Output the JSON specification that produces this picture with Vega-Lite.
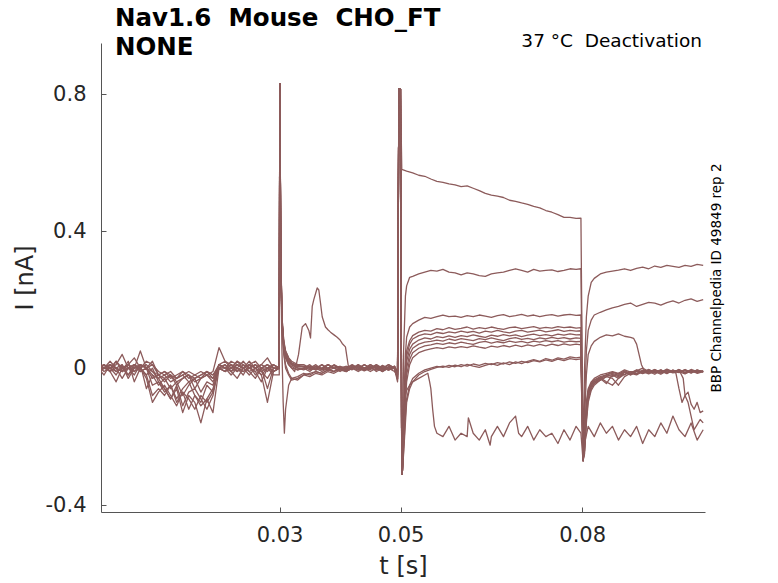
{
"$schema":"https://vega.github.io/schema/vega-lite/v6.json",
"width":604,"height":469,
"autosize":{"type":"none"},
"padding":{"left":101,"top":43,"right":73,"bottom":71},
"background":"white",
"config":{"view":{"stroke":null},"font":"DejaVu Sans"},
"title":{"text":["Nav1.6\u00a0 Mouse\u00a0 CHO_FT","NONE"],"anchor":"start","frame":"group","fontSize":24.5,"fontWeight":"bold","color":"#000000","lineHeight":29,"offset":-29,"dx":14,"font":"DejaVu Sans"},
"layer":[
{"data":{"values":[
{"s":"a","t":0,"i":0},{"s":"a","t":0.001,"i":0.01},{"s":"a","t":0.002,"i":-0.01},{"s":"a","t":0.003,"i":0.02},{"s":"a","t":0.004,"i":0},{"s":"a","t":0.005,"i":0.01},{"s":"a","t":0.006,"i":-0.01},{"s":"a","t":0.007,"i":0},{"s":"a","t":0.008,"i":0.02},{"s":"a","t":0.009,"i":0.01},
{"s":"a","t":0.01,"i":-0.01},{"s":"a","t":0.011,"i":-0.02},{"s":"a","t":0.012,"i":-0.01},{"s":"a","t":0.013,"i":-0.03},{"s":"a","t":0.014,"i":-0.02},{"s":"a","t":0.015,"i":-0.01},{"s":"a","t":0.016,"i":-0.02},{"s":"a","t":0.017,"i":-0.03},{"s":"a","t":0.018,"i":-0.01},{"s":"a","t":0.019,"i":-0.02},
{"s":"a","t":0.02,"i":0.01},{"s":"a","t":0.021,"i":0},{"s":"a","t":0.022,"i":0.02},{"s":"a","t":0.023,"i":0.01},{"s":"a","t":0.024,"i":0},{"s":"a","t":0.025,"i":0.01},{"s":"a","t":0.026,"i":0.02},{"s":"a","t":0.027,"i":0},{"s":"a","t":0.028,"i":0.01},{"s":"a","t":0.029,"i":0},
{"s":"a","t":0.02995,"i":0},{"s":"a","t":0.03005,"i":0.83},{"s":"a","t":0.0302,"i":0.35},{"s":"a","t":0.0304,"i":0.15},{"s":"a","t":0.0307,"i":0.08},{"s":"a","t":0.031,"i":0.05},{"s":"a","t":0.0315,"i":0.03},{"s":"a","t":0.032,"i":0.015},{"s":"a","t":0.033,"i":0.008},
{"s":"a","t":0.034,"i":0.005},{"s":"a","t":0.035,"i":0},{"s":"a","t":0.036,"i":0.01},{"s":"a","t":0.037,"i":-0.005},{"s":"a","t":0.038,"i":0},{"s":"a","t":0.039,"i":0.008},{"s":"a","t":0.04,"i":0},{"s":"a","t":0.041,"i":-0.01},{"s":"a","t":0.042,"i":0.005},{"s":"a","t":0.043,"i":0},{"s":"a","t":0.044,"i":0.01},{"s":"a","t":0.045,"i":0},{"s":"a","t":0.046,"i":-0.005},{"s":"a","t":0.047,"i":0.008},{"s":"a","t":0.048,"i":0},{"s":"a","t":0.049,"i":0.005},{"s":"a","t":0.0495,"i":-0.01},
{"s":"a","t":0.04972,"i":0.815},{"s":"a","t":0.04998,"i":0.815},{"s":"a","t":0.0502,"i":0.58},
{"s":"a","t":0.051,"i":0.575},{"s":"a","t":0.052,"i":0.57},{"s":"a","t":0.053,"i":0.563},{"s":"a","t":0.054,"i":0.56},{"s":"a","t":0.055,"i":0.552},{"s":"a","t":0.056,"i":0.545},{"s":"a","t":0.057,"i":0.542},{"s":"a","t":0.058,"i":0.538},{"s":"a","t":0.059,"i":0.535},{"s":"a","t":0.06,"i":0.53},{"s":"a","t":0.061,"i":0.532},{"s":"a","t":0.062,"i":0.525},{"s":"a","t":0.063,"i":0.518},{"s":"a","t":0.064,"i":0.51},{"s":"a","t":0.065,"i":0.505},{"s":"a","t":0.066,"i":0.502},{"s":"a","t":0.067,"i":0.498},{"s":"a","t":0.068,"i":0.49},{"s":"a","t":0.069,"i":0.487},{"s":"a","t":0.07,"i":0.482},{"s":"a","t":0.071,"i":0.478},{"s":"a","t":0.072,"i":0.472},{"s":"a","t":0.073,"i":0.468},{"s":"a","t":0.074,"i":0.46},{"s":"a","t":0.075,"i":0.455},{"s":"a","t":0.076,"i":0.448},{"s":"a","t":0.077,"i":0.44},{"s":"a","t":0.078,"i":0.44},{"s":"a","t":0.079,"i":0.437},{"s":"a","t":0.0798,"i":0.438},
{"s":"a","t":0.08015,"i":-0.27},{"s":"a","t":0.0804,"i":0},{"s":"a","t":0.0807,"i":0.15},{"s":"a","t":0.081,"i":0.21},{"s":"a","t":0.0815,"i":0.25},{"s":"a","t":0.082,"i":0.262},{"s":"a","t":0.083,"i":0.275},{"s":"a","t":0.084,"i":0.28},{"s":"a","t":0.085,"i":0.283},{"s":"a","t":0.086,"i":0.286},{"s":"a","t":0.087,"i":0.29},{"s":"a","t":0.088,"i":0.285},{"s":"a","t":0.089,"i":0.291},{"s":"a","t":0.09,"i":0.295},{"s":"a","t":0.091,"i":0.29},{"s":"a","t":0.092,"i":0.298},{"s":"a","t":0.093,"i":0.294},{"s":"a","t":0.094,"i":0.3},{"s":"a","t":0.095,"i":0.297},{"s":"a","t":0.096,"i":0.294},{"s":"a","t":0.097,"i":0.3},{"s":"a","t":0.098,"i":0.297},{"s":"a","t":0.099,"i":0.303},{"s":"a","t":0.1,"i":0.3},

{"s":"b","t":0,"i":0.01},{"s":"b","t":0.001,"i":-0.01},{"s":"b","t":0.002,"i":0},{"s":"b","t":0.003,"i":0.01},{"s":"b","t":0.004,"i":0.04},{"s":"b","t":0.005,"i":0},{"s":"b","t":0.006,"i":-0.01},{"s":"b","t":0.007,"i":0.01},{"s":"b","t":0.008,"i":0},{"s":"b","t":0.009,"i":0.02},
{"s":"b","t":0.01,"i":-0.02},{"s":"b","t":0.011,"i":-0.01},{"s":"b","t":0.012,"i":-0.03},{"s":"b","t":0.013,"i":-0.02},{"s":"b","t":0.014,"i":-0.01},{"s":"b","t":0.015,"i":-0.03},{"s":"b","t":0.016,"i":-0.02},{"s":"b","t":0.017,"i":-0.01},{"s":"b","t":0.018,"i":-0.02},{"s":"b","t":0.019,"i":-0.01},
{"s":"b","t":0.02,"i":0.06},{"s":"b","t":0.021,"i":0.02},{"s":"b","t":0.022,"i":0.01},{"s":"b","t":0.023,"i":-0.01},{"s":"b","t":0.024,"i":0.01},{"s":"b","t":0.025,"i":0},{"s":"b","t":0.026,"i":0.01},{"s":"b","t":0.027,"i":-0.01},{"s":"b","t":0.028,"i":0},{"s":"b","t":0.029,"i":0.01},
{"s":"b","t":0.02995,"i":0},{"s":"b","t":0.03005,"i":0.83},{"s":"b","t":0.0302,"i":0.33},{"s":"b","t":0.0304,"i":0.13},{"s":"b","t":0.0307,"i":0.07},{"s":"b","t":0.031,"i":0.04},{"s":"b","t":0.0315,"i":0.02},{"s":"b","t":0.032,"i":0.01},{"s":"b","t":0.033,"i":0},
{"s":"b","t":0.034,"i":0},{"s":"b","t":0.035,"i":0.01},{"s":"b","t":0.036,"i":-0.005},{"s":"b","t":0.037,"i":0},{"s":"b","t":0.038,"i":0.01},{"s":"b","t":0.039,"i":0},{"s":"b","t":0.04,"i":-0.01},{"s":"b","t":0.041,"i":0},{"s":"b","t":0.042,"i":0.008},{"s":"b","t":0.043,"i":-0.005},{"s":"b","t":0.044,"i":0},{"s":"b","t":0.045,"i":0.01},{"s":"b","t":0.046,"i":0},{"s":"b","t":0.047,"i":-0.01},{"s":"b","t":0.048,"i":0.005},{"s":"b","t":0.049,"i":0},{"s":"b","t":0.0495,"i":-0.02},
{"s":"b","t":0.04972,"i":0.815},{"s":"b","t":0.04998,"i":0.815},{"s":"b","t":0.0502,"i":-0.31},{"s":"b","t":0.0503,"i":-0.3},{"s":"b","t":0.0505,"i":0.05},{"s":"b","t":0.0508,"i":0.21},{"s":"b","t":0.051,"i":0.24},{"s":"b","t":0.0515,"i":0.265},
{"s":"b","t":0.052,"i":0.268},{"s":"b","t":0.053,"i":0.275},{"s":"b","t":0.054,"i":0.28},{"s":"b","t":0.055,"i":0.285},{"s":"b","t":0.056,"i":0.283},{"s":"b","t":0.057,"i":0.288},{"s":"b","t":0.058,"i":0.28},{"s":"b","t":0.059,"i":0.278},{"s":"b","t":0.06,"i":0.272},{"s":"b","t":0.061,"i":0.278},{"s":"b","t":0.062,"i":0.275},{"s":"b","t":0.063,"i":0.27},{"s":"b","t":0.064,"i":0.268},{"s":"b","t":0.065,"i":0.275},{"s":"b","t":0.066,"i":0.278},{"s":"b","t":0.067,"i":0.28},{"s":"b","t":0.068,"i":0.285},{"s":"b","t":0.069,"i":0.29},{"s":"b","t":0.07,"i":0.285},{"s":"b","t":0.071,"i":0.28},{"s":"b","t":0.072,"i":0.288},{"s":"b","t":0.073,"i":0.283},{"s":"b","t":0.074,"i":0.285},{"s":"b","t":0.075,"i":0.287},{"s":"b","t":0.076,"i":0.282},{"s":"b","t":0.077,"i":0.285},{"s":"b","t":0.078,"i":0.29},{"s":"b","t":0.079,"i":0.288},{"s":"b","t":0.0798,"i":0.29},
{"s":"b","t":0.08015,"i":-0.27},{"s":"b","t":0.0804,"i":-0.1},{"s":"b","t":0.0807,"i":0.05},{"s":"b","t":0.081,"i":0.11},{"s":"b","t":0.0815,"i":0.14},{"s":"b","t":0.082,"i":0.155},{"s":"b","t":0.083,"i":0.163},{"s":"b","t":0.084,"i":0.17},{"s":"b","t":0.085,"i":0.176},{"s":"b","t":0.086,"i":0.18},{"s":"b","t":0.087,"i":0.186},{"s":"b","t":0.088,"i":0.19},{"s":"b","t":0.089,"i":0.18},{"s":"b","t":0.09,"i":0.186},{"s":"b","t":0.091,"i":0.192},{"s":"b","t":0.092,"i":0.19},{"s":"b","t":0.093,"i":0.184},{"s":"b","t":0.094,"i":0.191},{"s":"b","t":0.095,"i":0.196},{"s":"b","t":0.096,"i":0.19},{"s":"b","t":0.097,"i":0.198},{"s":"b","t":0.098,"i":0.202},{"s":"b","t":0.099,"i":0.195},{"s":"b","t":0.1,"i":0.2},

{"s":"c","t":0,"i":0.02},{"s":"c","t":0.001,"i":0},{"s":"c","t":0.002,"i":0.01},{"s":"c","t":0.003,"i":-0.01},{"s":"c","t":0.004,"i":0},{"s":"c","t":0.005,"i":-0.02},{"s":"c","t":0.006,"i":0.01},{"s":"c","t":0.007,"i":0},{"s":"c","t":0.008,"i":0.01},{"s":"c","t":0.009,"i":-0.01},
{"s":"c","t":0.01,"i":-0.03},{"s":"c","t":0.011,"i":-0.02},{"s":"c","t":0.012,"i":-0.04},{"s":"c","t":0.013,"i":-0.03},{"s":"c","t":0.014,"i":-0.02},{"s":"c","t":0.015,"i":-0.04},{"s":"c","t":0.016,"i":-0.03},{"s":"c","t":0.017,"i":-0.02},{"s":"c","t":0.018,"i":-0.01},{"s":"c","t":0.019,"i":-0.03},
{"s":"c","t":0.02,"i":0.01},{"s":"c","t":0.021,"i":0},{"s":"c","t":0.022,"i":0},{"s":"c","t":0.023,"i":0.02},{"s":"c","t":0.024,"i":0.01},{"s":"c","t":0.025,"i":-0.01},{"s":"c","t":0.026,"i":0},{"s":"c","t":0.027,"i":0.01},{"s":"c","t":0.028,"i":0.03},{"s":"c","t":0.029,"i":0},
{"s":"c","t":0.02995,"i":0},{"s":"c","t":0.03005,"i":0.83},{"s":"c","t":0.0302,"i":0.34},{"s":"c","t":0.0304,"i":0.14},{"s":"c","t":0.0307,"i":0.06},{"s":"c","t":0.031,"i":0.03},{"s":"c","t":0.0315,"i":0.01},{"s":"c","t":0.032,"i":0},{"s":"c","t":0.0325,"i":-0.01},
{"s":"c","t":0.03314,"i":0.04},{"s":"c","t":0.03375,"i":0.12},{"s":"c","t":0.03429,"i":0.13},{"s":"c","t":0.03484,"i":0.11},{"s":"c","t":0.03512,"i":0.088},{"s":"c","t":0.0354,"i":0.18},{"s":"c","t":0.03566,"i":0.2},{"s":"c","t":0.03622,"i":0.234},{"s":"c","t":0.03649,"i":0.228},{"s":"c","t":0.03677,"i":0.19},{"s":"c","t":0.03705,"i":0.15},{"s":"c","t":0.03759,"i":0.12},{"s":"c","t":0.038,"i":0.112},{"s":"c","t":0.03842,"i":0.105},{"s":"c","t":0.039,"i":0.097},{"s":"c","t":0.03952,"i":0.09},{"s":"c","t":0.04,"i":0.082},{"s":"c","t":0.04035,"i":0.072},{"s":"c","t":0.04089,"i":0.062},{"s":"c","t":0.04122,"i":0.023},{"s":"c","t":0.04139,"i":0.004},
{"s":"c","t":0.042,"i":0},{"s":"c","t":0.043,"i":0.01},{"s":"c","t":0.044,"i":-0.005},{"s":"c","t":0.045,"i":0},{"s":"c","t":0.046,"i":0.01},{"s":"c","t":0.047,"i":-0.01},{"s":"c","t":0.048,"i":0},{"s":"c","t":0.049,"i":0.005},{"s":"c","t":0.0495,"i":-0.03},
{"s":"c","t":0.04972,"i":0.815},{"s":"c","t":0.04998,"i":0.815},{"s":"c","t":0.0502,"i":-0.31},{"s":"c","t":0.0503,"i":-0.3},{"s":"c","t":0.0505,"i":-0.12},{"s":"c","t":0.0508,"i":0.04},{"s":"c","t":0.051,"i":0.09},{"s":"c","t":0.0515,"i":0.12},
{"s":"c","t":0.052,"i":0.13},{"s":"c","t":0.053,"i":0.14},{"s":"c","t":0.054,"i":0.148},{"s":"c","t":0.055,"i":0.145},{"s":"c","t":0.056,"i":0.15},{"s":"c","t":0.057,"i":0.155},{"s":"c","t":0.058,"i":0.15},{"s":"c","t":0.059,"i":0.152},{"s":"c","t":0.06,"i":0.148},{"s":"c","t":0.061,"i":0.153},{"s":"c","t":0.062,"i":0.15},{"s":"c","t":0.063,"i":0.155},{"s":"c","t":0.064,"i":0.152},{"s":"c","t":0.065,"i":0.148},{"s":"c","t":0.066,"i":0.153},{"s":"c","t":0.067,"i":0.156},{"s":"c","t":0.068,"i":0.15},{"s":"c","t":0.069,"i":0.153},{"s":"c","t":0.07,"i":0.157},{"s":"c","t":0.071,"i":0.152},{"s":"c","t":0.072,"i":0.155},{"s":"c","t":0.073,"i":0.15},{"s":"c","t":0.074,"i":0.154},{"s":"c","t":0.075,"i":0.156},{"s":"c","t":0.076,"i":0.152},{"s":"c","t":0.077,"i":0.155},{"s":"c","t":0.078,"i":0.157},{"s":"c","t":0.079,"i":0.154},{"s":"c","t":0.0798,"i":0.155},
{"s":"c","t":0.08015,"i":-0.27},{"s":"c","t":0.0804,"i":-0.15},{"s":"c","t":0.0807,"i":-0.02},{"s":"c","t":0.081,"i":0.04},{"s":"c","t":0.0815,"i":0.065},{"s":"c","t":0.082,"i":0.078},{"s":"c","t":0.083,"i":0.09},{"s":"c","t":0.084,"i":0.097},{"s":"c","t":0.085,"i":0.094},{"s":"c","t":0.086,"i":0.1},{"s":"c","t":0.087,"i":0.093},{"s":"c","t":0.088,"i":0.09},{"s":"c","t":0.0885,"i":0.087},{"s":"c","t":0.089,"i":0.07},{"s":"c","t":0.0894,"i":0.04},{"s":"c","t":0.0898,"i":0.01},{"s":"c","t":0.0902,"i":-0.005},{"s":"c","t":0.091,"i":-0.012},{"s":"c","t":0.092,"i":-0.005},{"s":"c","t":0.093,"i":-0.015},{"s":"c","t":0.094,"i":-0.008},{"s":"c","t":0.095,"i":-0.012},{"s":"c","t":0.096,"i":-0.004},{"s":"c","t":0.097,"i":-0.015},{"s":"c","t":0.098,"i":-0.008},{"s":"c","t":0.099,"i":-0.012},{"s":"c","t":0.1,"i":-0.01},

{"s":"d","t":0,"i":-0.01},{"s":"d","t":0.001,"i":0},{"s":"d","t":0.002,"i":0.02},{"s":"d","t":0.003,"i":0},{"s":"d","t":0.004,"i":-0.01},{"s":"d","t":0.005,"i":0.01},{"s":"d","t":0.006,"i":0},{"s":"d","t":0.007,"i":0.05},{"s":"d","t":0.008,"i":0},{"s":"d","t":0.009,"i":0.01},
{"s":"d","t":0.01,"i":-0.02},{"s":"d","t":0.011,"i":-0.04},{"s":"d","t":0.012,"i":-0.02},{"s":"d","t":0.013,"i":-0.05},{"s":"d","t":0.014,"i":-0.03},{"s":"d","t":0.015,"i":-0.02},{"s":"d","t":0.016,"i":-0.06},{"s":"d","t":0.017,"i":-0.03},{"s":"d","t":0.018,"i":-0.02},{"s":"d","t":0.019,"i":-0.04},
{"s":"d","t":0.02,"i":0},{"s":"d","t":0.021,"i":0.01},{"s":"d","t":0.022,"i":-0.01},{"s":"d","t":0.023,"i":0},{"s":"d","t":0.024,"i":0.02},{"s":"d","t":0.025,"i":0},{"s":"d","t":0.026,"i":-0.01},{"s":"d","t":0.027,"i":0},{"s":"d","t":0.028,"i":0.01},{"s":"d","t":0.029,"i":-0.01},
{"s":"d","t":0.02995,"i":0},{"s":"d","t":0.03005,"i":0.83},{"s":"d","t":0.0302,"i":0.36},{"s":"d","t":0.0304,"i":0.15},{"s":"d","t":0.0307,"i":0.075},{"s":"d","t":0.031,"i":0.05},{"s":"d","t":0.0315,"i":0.03},{"s":"d","t":0.032,"i":0.02},{"s":"d","t":0.033,"i":0.01},
{"s":"d","t":0.034,"i":0.01},{"s":"d","t":0.035,"i":0},{"s":"d","t":0.036,"i":0.005},{"s":"d","t":0.037,"i":-0.005},{"s":"d","t":0.038,"i":0.01},{"s":"d","t":0.039,"i":0},{"s":"d","t":0.04,"i":0.005},{"s":"d","t":0.041,"i":0},{"s":"d","t":0.042,"i":-0.005},{"s":"d","t":0.043,"i":0.01},{"s":"d","t":0.044,"i":0},{"s":"d","t":0.045,"i":0.005},{"s":"d","t":0.046,"i":-0.01},{"s":"d","t":0.047,"i":0},{"s":"d","t":0.048,"i":0.01},{"s":"d","t":0.049,"i":0},{"s":"d","t":0.0495,"i":-0.01},
{"s":"d","t":0.04972,"i":0.815},{"s":"d","t":0.04998,"i":0.815},{"s":"d","t":0.0502,"i":-0.31},{"s":"d","t":0.0503,"i":-0.3},{"s":"d","t":0.0505,"i":-0.15},{"s":"d","t":0.0508,"i":0},{"s":"d","t":0.051,"i":0.05},{"s":"d","t":0.0515,"i":0.08},
{"s":"d","t":0.052,"i":0.095},{"s":"d","t":0.053,"i":0.105},{"s":"d","t":0.054,"i":0.11},{"s":"d","t":0.055,"i":0.108},{"s":"d","t":0.056,"i":0.115},{"s":"d","t":0.057,"i":0.112},{"s":"d","t":0.058,"i":0.118},{"s":"d","t":0.059,"i":0.113},{"s":"d","t":0.06,"i":0.116},{"s":"d","t":0.061,"i":0.12},{"s":"d","t":0.062,"i":0.114},{"s":"d","t":0.063,"i":0.118},{"s":"d","t":0.064,"i":0.115},{"s":"d","t":0.065,"i":0.12},{"s":"d","t":0.066,"i":0.116},{"s":"d","t":0.067,"i":0.113},{"s":"d","t":0.068,"i":0.118},{"s":"d","t":0.069,"i":0.12},{"s":"d","t":0.07,"i":0.115},{"s":"d","t":0.071,"i":0.118},{"s":"d","t":0.072,"i":0.121},{"s":"d","t":0.073,"i":0.116},{"s":"d","t":0.074,"i":0.119},{"s":"d","t":0.075,"i":0.117},{"s":"d","t":0.076,"i":0.121},{"s":"d","t":0.077,"i":0.118},{"s":"d","t":0.078,"i":0.12},{"s":"d","t":0.079,"i":0.117},{"s":"d","t":0.0798,"i":0.118},
{"s":"d","t":0.08015,"i":-0.27},{"s":"d","t":0.0804,"i":-0.2},{"s":"d","t":0.0807,"i":-0.1},{"s":"d","t":0.081,"i":-0.06},{"s":"d","t":0.0815,"i":-0.04},{"s":"d","t":0.082,"i":-0.03},{"s":"d","t":0.083,"i":-0.02},{"s":"d","t":0.084,"i":-0.015},{"s":"d","t":0.085,"i":-0.01},{"s":"d","t":0.086,"i":-0.015},{"s":"d","t":0.087,"i":-0.005},{"s":"d","t":0.088,"i":-0.012},{"s":"d","t":0.089,"i":-0.008},{"s":"d","t":0.09,"i":0},{"s":"d","t":0.091,"i":-0.01},{"s":"d","t":0.092,"i":-0.005},{"s":"d","t":0.093,"i":-0.012},{"s":"d","t":0.094,"i":-0.003},{"s":"d","t":0.095,"i":-0.01},{"s":"d","t":0.096,"i":-0.006},{"s":"d","t":0.097,"i":-0.014},{"s":"d","t":0.098,"i":-0.004},{"s":"d","t":0.099,"i":-0.01},{"s":"d","t":0.1,"i":-0.008},

{"s":"e","t":0,"i":0},{"s":"e","t":0.001,"i":-0.02},{"s":"e","t":0.002,"i":0.01},{"s":"e","t":0.003,"i":0},{"s":"e","t":0.004,"i":-0.03},{"s":"e","t":0.005,"i":0},{"s":"e","t":0.006,"i":0.01},{"s":"e","t":0.007,"i":-0.01},{"s":"e","t":0.008,"i":0},{"s":"e","t":0.009,"i":-0.02},
{"s":"e","t":0.01,"i":-0.05},{"s":"e","t":0.011,"i":-0.03},{"s":"e","t":0.012,"i":-0.06},{"s":"e","t":0.013,"i":-0.04},{"s":"e","t":0.014,"i":-0.08},{"s":"e","t":0.015,"i":-0.05},{"s":"e","t":0.016,"i":-0.03},{"s":"e","t":0.017,"i":-0.07},{"s":"e","t":0.018,"i":-0.04},{"s":"e","t":0.019,"i":-0.05},
{"s":"e","t":0.02,"i":0.01},{"s":"e","t":0.021,"i":0},{"s":"e","t":0.022,"i":-0.01},{"s":"e","t":0.023,"i":0.01},{"s":"e","t":0.024,"i":0},{"s":"e","t":0.025,"i":0.02},{"s":"e","t":0.026,"i":0},{"s":"e","t":0.027,"i":-0.02},{"s":"e","t":0.028,"i":0},{"s":"e","t":0.029,"i":0.01},
{"s":"e","t":0.02995,"i":0},{"s":"e","t":0.03005,"i":0.83},{"s":"e","t":0.0302,"i":0.35},{"s":"e","t":0.0304,"i":0.14},{"s":"e","t":0.0307,"i":0.065},{"s":"e","t":0.031,"i":0.04},{"s":"e","t":0.0315,"i":0.02},{"s":"e","t":0.032,"i":0.01},{"s":"e","t":0.033,"i":0},
{"s":"e","t":0.034,"i":-0.005},{"s":"e","t":0.035,"i":0.005},{"s":"e","t":0.036,"i":0},{"s":"e","t":0.037,"i":-0.01},{"s":"e","t":0.038,"i":0},{"s":"e","t":0.039,"i":0.008},{"s":"e","t":0.04,"i":-0.005},{"s":"e","t":0.041,"i":0},{"s":"e","t":0.042,"i":0.01},{"s":"e","t":0.043,"i":0},{"s":"e","t":0.044,"i":-0.008},{"s":"e","t":0.045,"i":0},{"s":"e","t":0.046,"i":0.005},{"s":"e","t":0.047,"i":0},{"s":"e","t":0.048,"i":-0.005},{"s":"e","t":0.049,"i":0.005},{"s":"e","t":0.0495,"i":-0.015},
{"s":"e","t":0.04972,"i":0.815},{"s":"e","t":0.04998,"i":0.815},{"s":"e","t":0.0502,"i":-0.31},{"s":"e","t":0.0503,"i":-0.3},{"s":"e","t":0.0505,"i":-0.17},{"s":"e","t":0.0508,"i":-0.02},{"s":"e","t":0.051,"i":0.035},{"s":"e","t":0.0515,"i":0.07},
{"s":"e","t":0.052,"i":0.085},{"s":"e","t":0.053,"i":0.095},{"s":"e","t":0.054,"i":0.1},{"s":"e","t":0.055,"i":0.098},{"s":"e","t":0.056,"i":0.104},{"s":"e","t":0.057,"i":0.101},{"s":"e","t":0.058,"i":0.106},{"s":"e","t":0.059,"i":0.103},{"s":"e","t":0.06,"i":0.108},{"s":"e","t":0.061,"i":0.104},{"s":"e","t":0.062,"i":0.107},{"s":"e","t":0.063,"i":0.102},{"s":"e","t":0.064,"i":0.108},{"s":"e","t":0.065,"i":0.105},{"s":"e","t":0.066,"i":0.11},{"s":"e","t":0.067,"i":0.106},{"s":"e","t":0.068,"i":0.103},{"s":"e","t":0.069,"i":0.108},{"s":"e","t":0.07,"i":0.11},{"s":"e","t":0.071,"i":0.105},{"s":"e","t":0.072,"i":0.108},{"s":"e","t":0.073,"i":0.111},{"s":"e","t":0.074,"i":0.106},{"s":"e","t":0.075,"i":0.109},{"s":"e","t":0.076,"i":0.112},{"s":"e","t":0.077,"i":0.107},{"s":"e","t":0.078,"i":0.11},{"s":"e","t":0.079,"i":0.108},{"s":"e","t":0.0798,"i":0.109},
{"s":"e","t":0.08015,"i":-0.27},{"s":"e","t":0.0804,"i":-0.21},{"s":"e","t":0.0807,"i":-0.11},{"s":"e","t":0.081,"i":-0.065},{"s":"e","t":0.0815,"i":-0.045},{"s":"e","t":0.082,"i":-0.035},{"s":"e","t":0.083,"i":-0.025},{"s":"e","t":0.084,"i":-0.02},{"s":"e","t":0.085,"i":-0.012},{"s":"e","t":0.086,"i":-0.018},{"s":"e","t":0.087,"i":-0.008},{"s":"e","t":0.088,"i":-0.015},{"s":"e","t":0.089,"i":-0.005},{"s":"e","t":0.09,"i":-0.012},{"s":"e","t":0.091,"i":-0.004},{"s":"e","t":0.092,"i":-0.013},{"s":"e","t":0.093,"i":-0.006},{"s":"e","t":0.094,"i":-0.015},{"s":"e","t":0.095,"i":-0.007},{"s":"e","t":0.096,"i":-0.012},{"s":"e","t":0.097,"i":-0.004},{"s":"e","t":0.098,"i":-0.012},{"s":"e","t":0.099,"i":-0.006},{"s":"e","t":0.1,"i":-0.01},

{"s":"f","t":0,"i":0.01},{"s":"f","t":0.001,"i":0},{"s":"f","t":0.002,"i":-0.01},{"s":"f","t":0.003,"i":-0.04},{"s":"f","t":0.004,"i":0},{"s":"f","t":0.005,"i":0.01},{"s":"f","t":0.006,"i":0.03},{"s":"f","t":0.007,"i":0},{"s":"f","t":0.008,"i":-0.02},{"s":"f","t":0.009,"i":0},
{"s":"f","t":0.01,"i":-0.04},{"s":"f","t":0.011,"i":-0.07},{"s":"f","t":0.012,"i":-0.05},{"s":"f","t":0.013,"i":-0.09},{"s":"f","t":0.014,"i":-0.06},{"s":"f","t":0.015,"i":-0.04},{"s":"f","t":0.016,"i":-0.08},{"s":"f","t":0.017,"i":-0.1},{"s":"f","t":0.018,"i":-0.05},{"s":"f","t":0.019,"i":-0.07},
{"s":"f","t":0.02,"i":0},{"s":"f","t":0.021,"i":-0.01},{"s":"f","t":0.022,"i":0.01},{"s":"f","t":0.023,"i":0},{"s":"f","t":0.024,"i":-0.02},{"s":"f","t":0.025,"i":0.01},{"s":"f","t":0.026,"i":0},{"s":"f","t":0.027,"i":-0.01},{"s":"f","t":0.028,"i":-0.03},{"s":"f","t":0.029,"i":0},
{"s":"f","t":0.02995,"i":0},{"s":"f","t":0.03005,"i":0.83},{"s":"f","t":0.0302,"i":0.34},{"s":"f","t":0.0304,"i":0.13},{"s":"f","t":0.0307,"i":0.06},{"s":"f","t":0.031,"i":0.035},{"s":"f","t":0.0315,"i":0.015},{"s":"f","t":0.032,"i":0.005},{"s":"f","t":0.033,"i":-0.005},
{"s":"f","t":0.034,"i":0},{"s":"f","t":0.035,"i":-0.01},{"s":"f","t":0.036,"i":0.005},{"s":"f","t":0.037,"i":0},{"s":"f","t":0.038,"i":-0.005},{"s":"f","t":0.039,"i":0.01},{"s":"f","t":0.04,"i":0},{"s":"f","t":0.041,"i":-0.01},{"s":"f","t":0.042,"i":0},{"s":"f","t":0.043,"i":0.005},{"s":"f","t":0.044,"i":-0.005},{"s":"f","t":0.045,"i":0.01},{"s":"f","t":0.046,"i":0},{"s":"f","t":0.047,"i":-0.01},{"s":"f","t":0.048,"i":0},{"s":"f","t":0.049,"i":0.005},{"s":"f","t":0.0495,"i":-0.02},
{"s":"f","t":0.04972,"i":0.815},{"s":"f","t":0.04998,"i":0.815},{"s":"f","t":0.0502,"i":-0.31},{"s":"f","t":0.0503,"i":-0.3},{"s":"f","t":0.0505,"i":-0.19},{"s":"f","t":0.0508,"i":-0.04},{"s":"f","t":0.051,"i":0.02},{"s":"f","t":0.0515,"i":0.055},
{"s":"f","t":0.052,"i":0.07},{"s":"f","t":0.053,"i":0.082},{"s":"f","t":0.054,"i":0.088},{"s":"f","t":0.055,"i":0.085},{"s":"f","t":0.056,"i":0.092},{"s":"f","t":0.057,"i":0.089},{"s":"f","t":0.058,"i":0.094},{"s":"f","t":0.059,"i":0.09},{"s":"f","t":0.06,"i":0.095},{"s":"f","t":0.061,"i":0.092},{"s":"f","t":0.062,"i":0.097},{"s":"f","t":0.063,"i":0.093},{"s":"f","t":0.064,"i":0.09},{"s":"f","t":0.065,"i":0.096},{"s":"f","t":0.066,"i":0.093},{"s":"f","t":0.067,"i":0.098},{"s":"f","t":0.068,"i":0.094},{"s":"f","t":0.069,"i":0.097},{"s":"f","t":0.07,"i":0.092},{"s":"f","t":0.071,"i":0.096},{"s":"f","t":0.072,"i":0.099},{"s":"f","t":0.073,"i":0.095},{"s":"f","t":0.074,"i":0.098},{"s":"f","t":0.075,"i":0.094},{"s":"f","t":0.076,"i":0.099},{"s":"f","t":0.077,"i":0.096},{"s":"f","t":0.078,"i":0.1},{"s":"f","t":0.079,"i":0.097},{"s":"f","t":0.0798,"i":0.098},
{"s":"f","t":0.08015,"i":-0.27},{"s":"f","t":0.0804,"i":-0.22},{"s":"f","t":0.0807,"i":-0.12},{"s":"f","t":0.081,"i":-0.07},{"s":"f","t":0.0815,"i":-0.05},{"s":"f","t":0.082,"i":-0.04},{"s":"f","t":0.083,"i":-0.03},{"s":"f","t":0.084,"i":-0.02},{"s":"f","t":0.085,"i":-0.025},{"s":"f","t":0.086,"i":-0.015},{"s":"f","t":0.087,"i":-0.02},{"s":"f","t":0.088,"i":-0.01},{"s":"f","t":0.089,"i":-0.018},{"s":"f","t":0.09,"i":-0.008},{"s":"f","t":0.091,"i":-0.015},{"s":"f","t":0.092,"i":-0.01},{"s":"f","t":0.093,"i":-0.018},{"s":"f","t":0.094,"i":-0.008},{"s":"f","t":0.095,"i":-0.014},{"s":"f","t":0.096,"i":-0.01},{"s":"f","t":0.097,"i":-0.017},{"s":"f","t":0.098,"i":-0.008},{"s":"f","t":0.099,"i":-0.015},{"s":"f","t":0.1,"i":-0.01},

{"s":"g","t":0,"i":0},{"s":"g","t":0.001,"i":0.01},{"s":"g","t":0.002,"i":0},{"s":"g","t":0.003,"i":-0.02},{"s":"g","t":0.004,"i":0.01},{"s":"g","t":0.005,"i":-0.03},{"s":"g","t":0.006,"i":0},{"s":"g","t":0.007,"i":0.01},{"s":"g","t":0.008,"i":-0.06},{"s":"g","t":0.009,"i":-0.02},
{"s":"g","t":0.01,"i":-0.03},{"s":"g","t":0.011,"i":-0.06},{"s":"g","t":0.012,"i":-0.09},{"s":"g","t":0.013,"i":-0.05},{"s":"g","t":0.014,"i":-0.11},{"s":"g","t":0.015,"i":-0.07},{"s":"g","t":0.016,"i":-0.06},{"s":"g","t":0.017,"i":-0.09},{"s":"g","t":0.018,"i":-0.12},{"s":"g","t":0.019,"i":-0.08},
{"s":"g","t":0.02,"i":0.01},{"s":"g","t":0.021,"i":0.02},{"s":"g","t":0.022,"i":0},{"s":"g","t":0.023,"i":-0.01},{"s":"g","t":0.024,"i":0},{"s":"g","t":0.025,"i":0.01},{"s":"g","t":0.026,"i":-0.02},{"s":"g","t":0.027,"i":0},{"s":"g","t":0.028,"i":-0.01},{"s":"g","t":0.029,"i":0.01},
{"s":"g","t":0.02995,"i":0},{"s":"g","t":0.03005,"i":0.83},{"s":"g","t":0.0302,"i":0.35},{"s":"g","t":0.0304,"i":0.14},{"s":"g","t":0.0307,"i":0.07},{"s":"g","t":0.031,"i":0.04},{"s":"g","t":0.0315,"i":0.02},{"s":"g","t":0.032,"i":0.012},{"s":"g","t":0.033,"i":0.004},
{"s":"g","t":0.034,"i":0.005},{"s":"g","t":0.035,"i":0},{"s":"g","t":0.036,"i":-0.005},{"s":"g","t":0.037,"i":0.01},{"s":"g","t":0.038,"i":0},{"s":"g","t":0.039,"i":-0.01},{"s":"g","t":0.04,"i":0},{"s":"g","t":0.041,"i":0.005},{"s":"g","t":0.042,"i":0},{"s":"g","t":0.043,"i":-0.005},{"s":"g","t":0.044,"i":0.01},{"s":"g","t":0.045,"i":0},{"s":"g","t":0.046,"i":-0.005},{"s":"g","t":0.047,"i":0.005},{"s":"g","t":0.048,"i":0},{"s":"g","t":0.049,"i":-0.01},{"s":"g","t":0.0495,"i":-0.025},
{"s":"g","t":0.04972,"i":0.815},{"s":"g","t":0.04998,"i":0.815},{"s":"g","t":0.0502,"i":-0.31},{"s":"g","t":0.0503,"i":-0.3},{"s":"g","t":0.0505,"i":-0.2},{"s":"g","t":0.0508,"i":-0.06},{"s":"g","t":0.051,"i":0},{"s":"g","t":0.0515,"i":0.04},
{"s":"g","t":0.052,"i":0.058},{"s":"g","t":0.053,"i":0.07},{"s":"g","t":0.054,"i":0.076},{"s":"g","t":0.055,"i":0.078},{"s":"g","t":0.056,"i":0.082},{"s":"g","t":0.057,"i":0.079},{"s":"g","t":0.058,"i":0.085},{"s":"g","t":0.059,"i":0.081},{"s":"g","t":0.06,"i":0.086},{"s":"g","t":0.061,"i":0.083},{"s":"g","t":0.062,"i":0.08},{"s":"g","t":0.063,"i":0.086},{"s":"g","t":0.064,"i":0.083},{"s":"g","t":0.065,"i":0.088},{"s":"g","t":0.066,"i":0.084},{"s":"g","t":0.067,"i":0.08},{"s":"g","t":0.068,"i":0.086},{"s":"g","t":0.069,"i":0.089},{"s":"g","t":0.07,"i":0.084},{"s":"g","t":0.071,"i":0.087},{"s":"g","t":0.072,"i":0.083},{"s":"g","t":0.073,"i":0.088},{"s":"g","t":0.074,"i":0.085},{"s":"g","t":0.075,"i":0.09},{"s":"g","t":0.076,"i":0.086},{"s":"g","t":0.077,"i":0.089},{"s":"g","t":0.078,"i":0.085},{"s":"g","t":0.079,"i":0.088},{"s":"g","t":0.0798,"i":0.087},
{"s":"g","t":0.08015,"i":-0.27},{"s":"g","t":0.0804,"i":-0.23},{"s":"g","t":0.0807,"i":-0.13},{"s":"g","t":0.081,"i":-0.075},{"s":"g","t":0.0815,"i":-0.05},{"s":"g","t":0.082,"i":-0.04},{"s":"g","t":0.083,"i":-0.03},{"s":"g","t":0.084,"i":-0.045},{"s":"g","t":0.085,"i":-0.02},{"s":"g","t":0.086,"i":-0.03},{"s":"g","t":0.087,"i":-0.012},{"s":"g","t":0.088,"i":-0.02},{"s":"g","t":0.089,"i":-0.01},{"s":"g","t":0.09,"i":-0.016},{"s":"g","t":0.091,"i":-0.006},{"s":"g","t":0.092,"i":-0.014},{"s":"g","t":0.093,"i":-0.008},{"s":"g","t":0.094,"i":-0.016},{"s":"g","t":0.095,"i":-0.006},{"s":"g","t":0.096,"i":-0.013},{"s":"g","t":0.097,"i":-0.007},{"s":"g","t":0.098,"i":-0.015},{"s":"g","t":0.099,"i":-0.006},{"s":"g","t":0.1,"i":-0.012},

{"s":"h","t":0,"i":-0.02},{"s":"h","t":0.001,"i":0},{"s":"h","t":0.002,"i":0.01},{"s":"h","t":0.003,"i":0},{"s":"h","t":0.004,"i":-0.01},{"s":"h","t":0.005,"i":0.02},{"s":"h","t":0.006,"i":-0.04},{"s":"h","t":0.007,"i":0},{"s":"h","t":0.008,"i":-0.02},{"s":"h","t":0.009,"i":-0.08},
{"s":"h","t":0.01,"i":-0.06},{"s":"h","t":0.011,"i":-0.08},{"s":"h","t":0.012,"i":-0.05},{"s":"h","t":0.013,"i":-0.1},{"s":"h","t":0.014,"i":-0.07},{"s":"h","t":0.015,"i":-0.12},{"s":"h","t":0.016,"i":-0.08},{"s":"h","t":0.017,"i":-0.11},{"s":"h","t":0.018,"i":-0.09},{"s":"h","t":0.019,"i":-0.13},
{"s":"h","t":0.02,"i":0},{"s":"h","t":0.021,"i":-0.01},{"s":"h","t":0.022,"i":0},{"s":"h","t":0.023,"i":0.02},{"s":"h","t":0.024,"i":0},{"s":"h","t":0.025,"i":-0.01},{"s":"h","t":0.026,"i":-0.03},{"s":"h","t":0.027,"i":0},{"s":"h","t":0.028,"i":-0.06},{"s":"h","t":0.029,"i":0},
{"s":"h","t":0.02995,"i":0},{"s":"h","t":0.03005,"i":0.83},{"s":"h","t":0.0302,"i":0.33},{"s":"h","t":0.0304,"i":0.12},{"s":"h","t":0.0307,"i":0.04},{"s":"h","t":0.031,"i":0},{"s":"h","t":0.0315,"i":-0.02},{"s":"h","t":0.032,"i":-0.035},{"s":"h","t":0.033,"i":-0.03},
{"s":"h","t":0.034,"i":-0.02},{"s":"h","t":0.035,"i":-0.015},{"s":"h","t":0.036,"i":-0.01},{"s":"h","t":0.037,"i":-0.015},{"s":"h","t":0.038,"i":-0.005},{"s":"h","t":0.039,"i":-0.01},{"s":"h","t":0.04,"i":0},{"s":"h","t":0.041,"i":-0.005},{"s":"h","t":0.042,"i":0.005},{"s":"h","t":0.043,"i":0},{"s":"h","t":0.044,"i":-0.005},{"s":"h","t":0.045,"i":0},{"s":"h","t":0.046,"i":0.005},{"s":"h","t":0.047,"i":-0.005},{"s":"h","t":0.048,"i":0},{"s":"h","t":0.049,"i":0.005},{"s":"h","t":0.0495,"i":-0.03},
{"s":"h","t":0.04972,"i":0.815},{"s":"h","t":0.04998,"i":0.815},{"s":"h","t":0.0502,"i":-0.31},{"s":"h","t":0.0503,"i":-0.3},{"s":"h","t":0.0505,"i":-0.21},{"s":"h","t":0.0508,"i":-0.08},{"s":"h","t":0.051,"i":-0.02},{"s":"h","t":0.0515,"i":0.025},
{"s":"h","t":0.052,"i":0.045},{"s":"h","t":0.053,"i":0.058},{"s":"h","t":0.054,"i":0.065},{"s":"h","t":0.055,"i":0.068},{"s":"h","t":0.056,"i":0.072},{"s":"h","t":0.057,"i":0.069},{"s":"h","t":0.058,"i":0.074},{"s":"h","t":0.059,"i":0.071},{"s":"h","t":0.06,"i":0.076},{"s":"h","t":0.061,"i":0.072},{"s":"h","t":0.062,"i":0.069},{"s":"h","t":0.063,"i":0.075},{"s":"h","t":0.064,"i":0.078},{"s":"h","t":0.065,"i":0.073},{"s":"h","t":0.066,"i":0.077},{"s":"h","t":0.067,"i":0.074},{"s":"h","t":0.068,"i":0.079},{"s":"h","t":0.069,"i":0.075},{"s":"h","t":0.07,"i":0.078},{"s":"h","t":0.071,"i":0.074},{"s":"h","t":0.072,"i":0.079},{"s":"h","t":0.073,"i":0.076},{"s":"h","t":0.074,"i":0.08},{"s":"h","t":0.075,"i":0.077},{"s":"h","t":0.076,"i":0.08},{"s":"h","t":0.077,"i":0.076},{"s":"h","t":0.078,"i":0.079},{"s":"h","t":0.079,"i":0.077},{"s":"h","t":0.0798,"i":0.078},
{"s":"h","t":0.08015,"i":-0.27},{"s":"h","t":0.0804,"i":-0.22},{"s":"h","t":0.0807,"i":-0.12},{"s":"h","t":0.081,"i":-0.07},{"s":"h","t":0.0815,"i":-0.045},{"s":"h","t":0.082,"i":-0.035},{"s":"h","t":0.083,"i":-0.028},{"s":"h","t":0.084,"i":-0.04},{"s":"h","t":0.085,"i":-0.05},{"s":"h","t":0.086,"i":-0.03},{"s":"h","t":0.087,"i":-0.018},{"s":"h","t":0.088,"i":-0.01},{"s":"h","t":0.089,"i":-0.016},{"s":"h","t":0.09,"i":-0.006},{"s":"h","t":0.091,"i":-0.012},{"s":"h","t":0.092,"i":-0.004},{"s":"h","t":0.093,"i":-0.013},{"s":"h","t":0.094,"i":-0.006},{"s":"h","t":0.095,"i":-0.01},{"s":"h","t":0.0955,"i":-0.015},{"s":"h","t":0.096,"i":-0.06},{"s":"h","t":0.0965,"i":-0.1},{"s":"h","t":0.097,"i":-0.08},{"s":"h","t":0.0975,"i":-0.07},{"s":"h","t":0.098,"i":-0.105},{"s":"h","t":0.0985,"i":-0.12},{"s":"h","t":0.099,"i":-0.1},{"s":"h","t":0.0995,"i":-0.13},{"s":"h","t":0.1,"i":-0.125},

{"s":"i","t":0,"i":0.01},{"s":"i","t":0.001,"i":0},{"s":"i","t":0.002,"i":0},{"s":"i","t":0.003,"i":0.02},{"s":"i","t":0.004,"i":-0.01},{"s":"i","t":0.005,"i":0},{"s":"i","t":0.006,"i":-0.02},{"s":"i","t":0.007,"i":0.01},{"s":"i","t":0.008,"i":0},{"s":"i","t":0.009,"i":-0.05},
{"s":"i","t":0.01,"i":-0.04},{"s":"i","t":0.011,"i":-0.06},{"s":"i","t":0.012,"i":-0.09},{"s":"i","t":0.013,"i":-0.06},{"s":"i","t":0.014,"i":-0.13},{"s":"i","t":0.015,"i":-0.08},{"s":"i","t":0.016,"i":-0.1},{"s":"i","t":0.017,"i":-0.16},{"s":"i","t":0.018,"i":-0.09},{"s":"i","t":0.019,"i":-0.06},
{"s":"i","t":0.02,"i":0},{"s":"i","t":0.021,"i":0.01},{"s":"i","t":0.022,"i":-0.01},{"s":"i","t":0.023,"i":-0.03},{"s":"i","t":0.024,"i":0},{"s":"i","t":0.025,"i":0.01},{"s":"i","t":0.026,"i":0},{"s":"i","t":0.027,"i":-0.02},{"s":"i","t":0.028,"i":-0.1},{"s":"i","t":0.029,"i":-0.01},
{"s":"i","t":0.02995,"i":0},{"s":"i","t":0.03005,"i":0.83},{"s":"i","t":0.0302,"i":0.33},{"s":"i","t":0.0304,"i":0.12},{"s":"i","t":0.0307,"i":0.045},{"s":"i","t":0.031,"i":0.01},{"s":"i","t":0.0315,"i":-0.015},{"s":"i","t":0.032,"i":-0.03},{"s":"i","t":0.033,"i":-0.025},
{"s":"i","t":0.034,"i":-0.015},{"s":"i","t":0.035,"i":-0.02},{"s":"i","t":0.036,"i":-0.01},{"s":"i","t":0.037,"i":-0.015},{"s":"i","t":0.038,"i":-0.005},{"s":"i","t":0.039,"i":-0.01},{"s":"i","t":0.04,"i":0},{"s":"i","t":0.041,"i":-0.005},{"s":"i","t":0.042,"i":0},{"s":"i","t":0.043,"i":0.005},{"s":"i","t":0.044,"i":-0.005},{"s":"i","t":0.045,"i":0},{"s":"i","t":0.046,"i":0.005},{"s":"i","t":0.047,"i":0},{"s":"i","t":0.048,"i":-0.005},{"s":"i","t":0.049,"i":0},{"s":"i","t":0.0495,"i":-0.035},
{"s":"i","t":0.04972,"i":0.815},{"s":"i","t":0.04998,"i":0.815},{"s":"i","t":0.0502,"i":-0.31},{"s":"i","t":0.0503,"i":-0.3},{"s":"i","t":0.0505,"i":-0.22},{"s":"i","t":0.0508,"i":-0.1},{"s":"i","t":0.051,"i":-0.04},{"s":"i","t":0.0515,"i":0.01},
{"s":"i","t":0.052,"i":0.03},{"s":"i","t":0.053,"i":0.045},{"s":"i","t":0.054,"i":0.052},{"s":"i","t":0.055,"i":0.056},{"s":"i","t":0.056,"i":0.06},{"s":"i","t":0.057,"i":0.057},{"s":"i","t":0.058,"i":0.062},{"s":"i","t":0.059,"i":0.059},{"s":"i","t":0.06,"i":0.063},{"s":"i","t":0.061,"i":0.06},{"s":"i","t":0.062,"i":0.065},{"s":"i","t":0.063,"i":0.061},{"s":"i","t":0.064,"i":0.058},{"s":"i","t":0.065,"i":0.064},{"s":"i","t":0.066,"i":0.061},{"s":"i","t":0.067,"i":0.066},{"s":"i","t":0.068,"i":0.062},{"s":"i","t":0.069,"i":0.067},{"s":"i","t":0.07,"i":0.063},{"s":"i","t":0.071,"i":0.068},{"s":"i","t":0.072,"i":0.064},{"s":"i","t":0.073,"i":0.069},{"s":"i","t":0.074,"i":0.065},{"s":"i","t":0.075,"i":0.07},{"s":"i","t":0.076,"i":0.066},{"s":"i","t":0.077,"i":0.071},{"s":"i","t":0.078,"i":0.067},{"s":"i","t":0.079,"i":0.07},{"s":"i","t":0.0798,"i":0.068},
{"s":"i","t":0.08015,"i":-0.27},{"s":"i","t":0.0804,"i":-0.24},{"s":"i","t":0.0807,"i":-0.14},{"s":"i","t":0.081,"i":-0.08},{"s":"i","t":0.0815,"i":-0.055},{"s":"i","t":0.082,"i":-0.045},{"s":"i","t":0.083,"i":-0.035},{"s":"i","t":0.084,"i":-0.025},{"s":"i","t":0.085,"i":-0.03},{"s":"i","t":0.086,"i":-0.05},{"s":"i","t":0.087,"i":-0.025},{"s":"i","t":0.088,"i":-0.015},{"s":"i","t":0.089,"i":-0.02},{"s":"i","t":0.09,"i":-0.01},{"s":"i","t":0.091,"i":-0.017},{"s":"i","t":0.092,"i":-0.007},{"s":"i","t":0.093,"i":-0.014},{"s":"i","t":0.094,"i":-0.005},{"s":"i","t":0.095,"i":-0.012},{"s":"i","t":0.096,"i":-0.004},{"s":"i","t":0.097,"i":-0.012},{"s":"i","t":0.098,"i":-0.006},{"s":"i","t":0.099,"i":-0.014},{"s":"i","t":0.1,"i":-0.008},

{"s":"j","t":0,"i":0},{"s":"j","t":0.001,"i":0.01},{"s":"j","t":0.002,"i":-0.01},{"s":"j","t":0.003,"i":0},{"s":"j","t":0.004,"i":0.01},{"s":"j","t":0.005,"i":-0.02},{"s":"j","t":0.006,"i":0},{"s":"j","t":0.007,"i":0},{"s":"j","t":0.008,"i":-0.03},{"s":"j","t":0.009,"i":-0.1},
{"s":"j","t":0.01,"i":-0.07},{"s":"j","t":0.011,"i":-0.05},{"s":"j","t":0.012,"i":-0.08},{"s":"j","t":0.013,"i":-0.11},{"s":"j","t":0.014,"i":-0.07},{"s":"j","t":0.015,"i":-0.09},{"s":"j","t":0.016,"i":-0.12},{"s":"j","t":0.017,"i":-0.08},{"s":"j","t":0.018,"i":-0.1},{"s":"j","t":0.019,"i":-0.07},
{"s":"j","t":0.02,"i":0.01},{"s":"j","t":0.021,"i":0},{"s":"j","t":0.022,"i":-0.02},{"s":"j","t":0.023,"i":0},{"s":"j","t":0.024,"i":-0.01},{"s":"j","t":0.025,"i":0},{"s":"j","t":0.026,"i":-0.01},{"s":"j","t":0.027,"i":-0.04},{"s":"j","t":0.028,"i":0},{"s":"j","t":0.029,"i":-0.01},
{"s":"j","t":0.02995,"i":0},{"s":"j","t":0.03005,"i":0.83},{"s":"j","t":0.0302,"i":0.34},{"s":"j","t":0.0304,"i":0.13},{"s":"j","t":0.0307,"i":0.06},{"s":"j","t":0.031,"i":0.03},{"s":"j","t":0.0315,"i":0.01},{"s":"j","t":0.032,"i":0},{"s":"j","t":0.033,"i":-0.005},
{"s":"j","t":0.034,"i":0},{"s":"j","t":0.035,"i":0.005},{"s":"j","t":0.036,"i":-0.005},{"s":"j","t":0.037,"i":0},{"s":"j","t":0.038,"i":0.01},{"s":"j","t":0.039,"i":0},{"s":"j","t":0.04,"i":-0.005},{"s":"j","t":0.041,"i":0.005},{"s":"j","t":0.042,"i":0},{"s":"j","t":0.043,"i":-0.01},{"s":"j","t":0.044,"i":0},{"s":"j","t":0.045,"i":0.005},{"s":"j","t":0.046,"i":0},{"s":"j","t":0.047,"i":-0.005},{"s":"j","t":0.048,"i":0.01},{"s":"j","t":0.049,"i":0},{"s":"j","t":0.0495,"i":-0.04},
{"s":"j","t":0.04972,"i":0.815},{"s":"j","t":0.04998,"i":0.815},{"s":"j","t":0.0502,"i":-0.31},{"s":"j","t":0.0503,"i":-0.3},{"s":"j","t":0.0505,"i":-0.24},{"s":"j","t":0.0508,"i":-0.14},{"s":"j","t":0.051,"i":-0.09},{"s":"j","t":0.0515,"i":-0.05},
{"s":"j","t":0.052,"i":-0.03},{"s":"j","t":0.053,"i":-0.015},{"s":"j","t":0.054,"i":-0.005},{"s":"j","t":0.055,"i":0},{"s":"j","t":0.056,"i":0.005},{"s":"j","t":0.057,"i":0.002},{"s":"j","t":0.058,"i":0.008},{"s":"j","t":0.059,"i":0.004},{"s":"j","t":0.06,"i":0.01},{"s":"j","t":0.061,"i":0.006},{"s":"j","t":0.062,"i":0.012},{"s":"j","t":0.063,"i":0.008},{"s":"j","t":0.064,"i":0.014},{"s":"j","t":0.065,"i":0.01},{"s":"j","t":0.066,"i":0.016},{"s":"j","t":0.067,"i":0.012},{"s":"j","t":0.068,"i":0.018},{"s":"j","t":0.069,"i":0.014},{"s":"j","t":0.07,"i":0.02},{"s":"j","t":0.071,"i":0.016},{"s":"j","t":0.072,"i":0.022},{"s":"j","t":0.073,"i":0.018},{"s":"j","t":0.074,"i":0.024},{"s":"j","t":0.075,"i":0.02},{"s":"j","t":0.076,"i":0.026},{"s":"j","t":0.077,"i":0.022},{"s":"j","t":0.078,"i":0.028},{"s":"j","t":0.079,"i":0.025},{"s":"j","t":0.0798,"i":0.027},
{"s":"j","t":0.08015,"i":-0.27},{"s":"j","t":0.0804,"i":-0.25},{"s":"j","t":0.0807,"i":-0.16},{"s":"j","t":0.081,"i":-0.1},{"s":"j","t":0.0815,"i":-0.065},{"s":"j","t":0.082,"i":-0.05},{"s":"j","t":0.083,"i":-0.035},{"s":"j","t":0.084,"i":-0.025},{"s":"j","t":0.085,"i":-0.018},{"s":"j","t":0.086,"i":-0.025},{"s":"j","t":0.087,"i":-0.012},{"s":"j","t":0.088,"i":-0.02},{"s":"j","t":0.089,"i":-0.008},{"s":"j","t":0.09,"i":-0.015},{"s":"j","t":0.091,"i":-0.01},{"s":"j","t":0.092,"i":-0.018},{"s":"j","t":0.093,"i":-0.006},{"s":"j","t":0.094,"i":-0.013},{"s":"j","t":0.095,"i":-0.008},{"s":"j","t":0.0962,"i":-0.012},{"s":"j","t":0.0967,"i":-0.03},{"s":"j","t":0.097,"i":-0.08},{"s":"j","t":0.0975,"i":-0.1},{"s":"j","t":0.098,"i":-0.14},{"s":"j","t":0.0985,"i":-0.18},{"s":"j","t":0.099,"i":-0.165},{"s":"j","t":0.0995,"i":-0.15},{"s":"j","t":0.1,"i":-0.16},

{"s":"k","t":0,"i":0.01},{"s":"k","t":0.001,"i":0},{"s":"k","t":0.002,"i":0},{"s":"k","t":0.003,"i":-0.01},{"s":"k","t":0.004,"i":0},{"s":"k","t":0.005,"i":0},{"s":"k","t":0.006,"i":0.01},{"s":"k","t":0.007,"i":-0.01},{"s":"k","t":0.008,"i":0},{"s":"k","t":0.009,"i":-0.03},
{"s":"k","t":0.01,"i":-0.02},{"s":"k","t":0.011,"i":-0.03},{"s":"k","t":0.012,"i":-0.02},{"s":"k","t":0.013,"i":-0.04},{"s":"k","t":0.014,"i":-0.03},{"s":"k","t":0.015,"i":-0.02},{"s":"k","t":0.016,"i":-0.04},{"s":"k","t":0.017,"i":-0.03},{"s":"k","t":0.018,"i":-0.02},{"s":"k","t":0.019,"i":-0.03},
{"s":"k","t":0.02,"i":0},{"s":"k","t":0.021,"i":-0.01},{"s":"k","t":0.022,"i":0},{"s":"k","t":0.023,"i":0.01},{"s":"k","t":0.024,"i":0},{"s":"k","t":0.025,"i":-0.02},{"s":"k","t":0.026,"i":0},{"s":"k","t":0.027,"i":0.01},{"s":"k","t":0.028,"i":0},{"s":"k","t":0.029,"i":-0.01},
{"s":"k","t":0.02995,"i":0},{"s":"k","t":0.03005,"i":0.83},{"s":"k","t":0.0302,"i":0.35},{"s":"k","t":0.0304,"i":0.14},{"s":"k","t":0.0307,"i":0.07},{"s":"k","t":0.031,"i":0.045},{"s":"k","t":0.0315,"i":0.025},{"s":"k","t":0.032,"i":0.015},{"s":"k","t":0.033,"i":0.005},
{"s":"k","t":0.034,"i":0.005},{"s":"k","t":0.035,"i":-0.005},{"s":"k","t":0.036,"i":0},{"s":"k","t":0.037,"i":0.01},{"s":"k","t":0.038,"i":-0.005},{"s":"k","t":0.039,"i":0},{"s":"k","t":0.04,"i":0.005},{"s":"k","t":0.041,"i":-0.01},{"s":"k","t":0.042,"i":0},{"s":"k","t":0.043,"i":0.005},{"s":"k","t":0.044,"i":0},{"s":"k","t":0.045,"i":-0.005},{"s":"k","t":0.046,"i":0.01},{"s":"k","t":0.047,"i":0},{"s":"k","t":0.048,"i":-0.005},{"s":"k","t":0.049,"i":0},{"s":"k","t":0.0495,"i":-0.02},
{"s":"k","t":0.04972,"i":0.815},{"s":"k","t":0.04998,"i":0.815},{"s":"k","t":0.0502,"i":-0.31},{"s":"k","t":0.0503,"i":-0.3},{"s":"k","t":0.0505,"i":-0.25},{"s":"k","t":0.0508,"i":-0.16},{"s":"k","t":0.051,"i":-0.1},{"s":"k","t":0.0515,"i":-0.06},
{"s":"k","t":0.052,"i":-0.04},{"s":"k","t":0.053,"i":-0.02},{"s":"k","t":0.054,"i":-0.01},{"s":"k","t":0.055,"i":-0.004},{"s":"k","t":0.056,"i":0.002},{"s":"k","t":0.057,"i":0.006},{"s":"k","t":0.058,"i":0.002},{"s":"k","t":0.059,"i":0.009},{"s":"k","t":0.06,"i":0.004},{"s":"k","t":0.061,"i":0.011},{"s":"k","t":0.062,"i":0.006},{"s":"k","t":0.063,"i":0.002},{"s":"k","t":0.064,"i":0.008},{"s":"k","t":0.065,"i":0.013},{"s":"k","t":0.066,"i":0.008},{"s":"k","t":0.067,"i":0.015},{"s":"k","t":0.068,"i":0.01},{"s":"k","t":0.069,"i":0.018},{"s":"k","t":0.07,"i":0.013},{"s":"k","t":0.071,"i":0.02},{"s":"k","t":0.072,"i":0.025},{"s":"k","t":0.073,"i":0.02},{"s":"k","t":0.074,"i":0.028},{"s":"k","t":0.075,"i":0.023},{"s":"k","t":0.076,"i":0.03},{"s":"k","t":0.077,"i":0.026},{"s":"k","t":0.078,"i":0.033},{"s":"k","t":0.079,"i":0.03},{"s":"k","t":0.0798,"i":0.032},
{"s":"k","t":0.08015,"i":-0.27},{"s":"k","t":0.0804,"i":-0.24},{"s":"k","t":0.0807,"i":-0.15},{"s":"k","t":0.081,"i":-0.09},{"s":"k","t":0.0815,"i":-0.06},{"s":"k","t":0.082,"i":-0.045},{"s":"k","t":0.083,"i":-0.03},{"s":"k","t":0.084,"i":-0.02},{"s":"k","t":0.085,"i":-0.015},{"s":"k","t":0.086,"i":-0.022},{"s":"k","t":0.087,"i":-0.01},{"s":"k","t":0.088,"i":-0.018},{"s":"k","t":0.089,"i":-0.006},{"s":"k","t":0.09,"i":-0.013},{"s":"k","t":0.091,"i":-0.004},{"s":"k","t":0.092,"i":-0.012},{"s":"k","t":0.093,"i":-0.005},{"s":"k","t":0.094,"i":-0.014},{"s":"k","t":0.095,"i":-0.006},{"s":"k","t":0.096,"i":-0.012},{"s":"k","t":0.097,"i":-0.005},{"s":"k","t":0.098,"i":-0.013},{"s":"k","t":0.099,"i":-0.006},{"s":"k","t":0.1,"i":-0.01},

{"s":"l","t":0,"i":0},{"s":"l","t":0.001,"i":0},{"s":"l","t":0.002,"i":0.01},{"s":"l","t":0.003,"i":0},{"s":"l","t":0.004,"i":-0.01},{"s":"l","t":0.005,"i":0},{"s":"l","t":0.006,"i":0},{"s":"l","t":0.007,"i":0.01},{"s":"l","t":0.008,"i":0},{"s":"l","t":0.009,"i":-0.01},
{"s":"l","t":0.01,"i":-0.02},{"s":"l","t":0.011,"i":-0.01},{"s":"l","t":0.012,"i":-0.02},{"s":"l","t":0.013,"i":-0.03},{"s":"l","t":0.014,"i":-0.01},{"s":"l","t":0.015,"i":-0.02},{"s":"l","t":0.016,"i":-0.03},{"s":"l","t":0.017,"i":-0.02},{"s":"l","t":0.018,"i":-0.01},{"s":"l","t":0.019,"i":-0.02},
{"s":"l","t":0.02,"i":0},{"s":"l","t":0.021,"i":0},{"s":"l","t":0.022,"i":0.01},{"s":"l","t":0.023,"i":0},{"s":"l","t":0.024,"i":-0.01},{"s":"l","t":0.025,"i":0},{"s":"l","t":0.026,"i":0.01},{"s":"l","t":0.027,"i":0},{"s":"l","t":0.028,"i":0},{"s":"l","t":0.029,"i":-0.02},
{"s":"l","t":0.02995,"i":-0.02},{"s":"l","t":0.03005,"i":0.83},{"s":"l","t":0.0302,"i":0.3},{"s":"l","t":0.0304,"i":0.05},{"s":"l","t":0.0306,"i":-0.1},{"s":"l","t":0.0308,"i":-0.19},{"s":"l","t":0.031,"i":-0.12},{"s":"l","t":0.0315,"i":-0.05},{"s":"l","t":0.032,"i":-0.03},{"s":"l","t":0.033,"i":-0.035},
{"s":"l","t":0.034,"i":-0.02},{"s":"l","t":0.035,"i":-0.025},{"s":"l","t":0.036,"i":-0.015},{"s":"l","t":0.037,"i":-0.02},{"s":"l","t":0.038,"i":-0.01},{"s":"l","t":0.039,"i":-0.015},{"s":"l","t":0.04,"i":-0.005},{"s":"l","t":0.041,"i":-0.01},{"s":"l","t":0.042,"i":0},{"s":"l","t":0.043,"i":-0.005},{"s":"l","t":0.044,"i":0},{"s":"l","t":0.045,"i":-0.01},{"s":"l","t":0.046,"i":0},{"s":"l","t":0.047,"i":0.005},{"s":"l","t":0.048,"i":-0.005},{"s":"l","t":0.049,"i":0},{"s":"l","t":0.0495,"i":-0.03},
{"s":"l","t":0.04972,"i":0.815},{"s":"l","t":0.04998,"i":0.815},{"s":"l","t":0.0502,"i":-0.31},{"s":"l","t":0.0503,"i":-0.3},{"s":"l","t":0.0505,"i":-0.2},{"s":"l","t":0.0508,"i":-0.08},{"s":"l","t":0.051,"i":-0.065},{"s":"l","t":0.0515,"i":-0.05},
{"s":"l","t":0.052,"i":-0.04},{"s":"l","t":0.053,"i":-0.03},{"s":"l","t":0.054,"i":-0.02},{"s":"l","t":0.0545,"i":-0.015},{"s":"l","t":0.0548,"i":-0.04},{"s":"l","t":0.055,"i":-0.06},{"s":"l","t":0.0553,"i":-0.12},{"s":"l","t":0.0556,"i":-0.17},{"s":"l","t":0.056,"i":-0.19},{"s":"l","t":0.057,"i":-0.2},{"s":"l","t":0.058,"i":-0.17},{"s":"l","t":0.059,"i":-0.21},{"s":"l","t":0.06,"i":-0.19},{"s":"l","t":0.061,"i":-0.2},{"s":"l","t":0.0612,"i":-0.145},{"s":"l","t":0.062,"i":-0.19},{"s":"l","t":0.063,"i":-0.21},{"s":"l","t":0.064,"i":-0.18},{"s":"l","t":0.0648,"i":-0.225},{"s":"l","t":0.065,"i":-0.2},{"s":"l","t":0.066,"i":-0.17},{"s":"l","t":0.067,"i":-0.2},{"s":"l","t":0.068,"i":-0.16},{"s":"l","t":0.069,"i":-0.14},{"s":"l","t":0.0695,"i":-0.19},{"s":"l","t":0.07,"i":-0.2},{"s":"l","t":0.071,"i":-0.17},{"s":"l","t":0.072,"i":-0.21},{"s":"l","t":0.073,"i":-0.18},{"s":"l","t":0.074,"i":-0.2},{"s":"l","t":0.075,"i":-0.19},{"s":"l","t":0.076,"i":-0.22},{"s":"l","t":0.077,"i":-0.18},{"s":"l","t":0.078,"i":-0.21},{"s":"l","t":0.079,"i":-0.17},{"s":"l","t":0.0798,"i":-0.19},
{"s":"l","t":0.08015,"i":-0.27},{"s":"l","t":0.0804,"i":-0.22},{"s":"l","t":0.081,"i":-0.17},{"s":"l","t":0.082,"i":-0.2},{"s":"l","t":0.083,"i":-0.16},{"s":"l","t":0.084,"i":-0.19},{"s":"l","t":0.085,"i":-0.17},{"s":"l","t":0.086,"i":-0.21},{"s":"l","t":0.087,"i":-0.18},{"s":"l","t":0.088,"i":-0.2},{"s":"l","t":0.089,"i":-0.17},{"s":"l","t":0.09,"i":-0.22},{"s":"l","t":0.091,"i":-0.18},{"s":"l","t":0.092,"i":-0.2},{"s":"l","t":0.093,"i":-0.16},{"s":"l","t":0.094,"i":-0.19},{"s":"l","t":0.095,"i":-0.14},{"s":"l","t":0.096,"i":-0.18},{"s":"l","t":0.097,"i":-0.2},{"s":"l","t":0.098,"i":-0.16},{"s":"l","t":0.099,"i":-0.21},{"s":"l","t":0.1,"i":-0.18}
]},
"mark":{"type":"line","color":"#8c5b5b","strokeWidth":1.3,"clip":true,"strokeJoin":"round"},
"encoding":{
"x":{"field":"t","type":"quantitative","scale":{"domain":[0.0005,0.1003],"nice":false,"zero":false},
"axis":{"values":[0.03,0.05,0.08],"format":".2f","title":"t [s]","grid":false,"tickSize":-5,"labelPadding":17,"labelFontSize":21,"labelFont":"DejaVu Sans","labelColor":"#262626","titleFontSize":24,"titleFont":"DejaVu Sans","titleFontWeight":"normal","titleColor":"#262626","titlePadding":9,"domainColor":"#555555","tickColor":"#555555","labelFlush":false}},
"y":{"field":"i","type":"quantitative","scale":{"domain":[-0.42,0.949],"nice":false,"zero":false},
"axis":{"values":[-0.4,0,0.4,0.8],"labelExpr":"datum.value < 0 ? '-' + format(-datum.value, '.1~f') : format(datum.value, '.1~f')","title":"I [nA]","grid":false,"tickSize":-5,"labelPadding":20,"labelFontSize":21,"labelFont":"DejaVu Sans","labelColor":"#262626","titleFontSize":24,"titleFont":"DejaVu Sans","titleFontWeight":"normal","titleColor":"#262626","titlePadding":8,"domainColor":"#555555","tickColor":"#555555","labelFlush":false}},
"detail":{"field":"s"}
}},
{"data":{"values":[{"label":"37 °C\u00a0 Deactivation"}]},
"mark":{"type":"text","align":"right","baseline":"middle","fontSize":18.5,"font":"DejaVu Sans","color":"#000000","clip":false},
"encoding":{
"x":{"datum":0.0998,"type":"quantitative"},
"y":{"datum":0.955,"type":"quantitative","scale":{"domain":[-0.42,0.949],"nice":false,"zero":false},
"axis":{"orient":"right","title":"BBP Channelpedia ID 49849 rep 2","labels":false,"ticks":false,"domain":false,"grid":false,"titleAngle":270,"titleFontSize":13.5,"titleFont":"DejaVu Sans","titleFontWeight":"normal","titleColor":"#000000","titlePadding":18}},
"text":{"field":"label"}
}}
],
"resolve":{"scale":{"y":"independent"},"axis":{"y":"independent"}}
}
